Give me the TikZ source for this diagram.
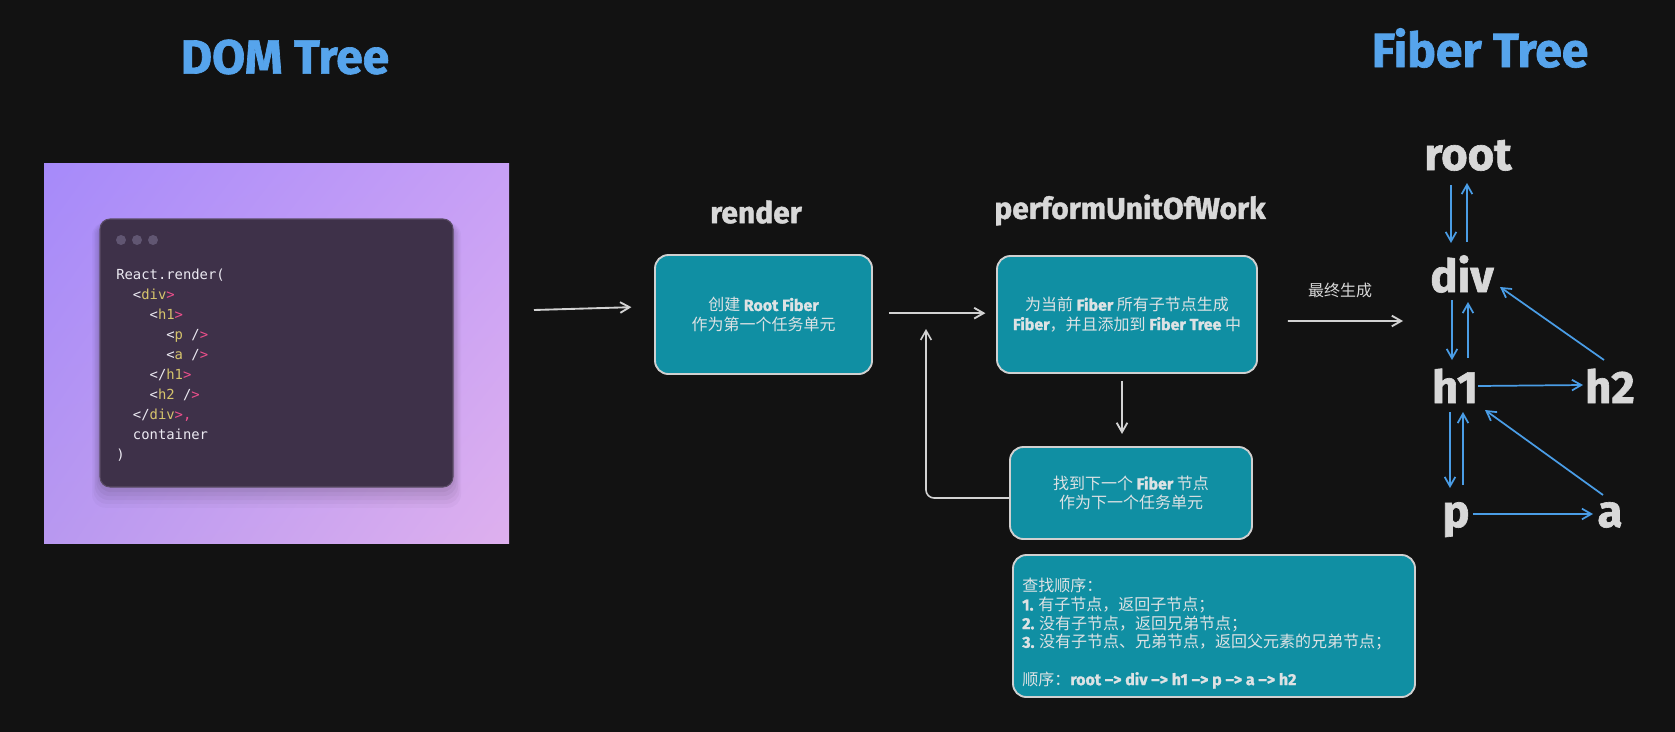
\documentclass[tikz,border=0pt]{standalone}
\usepackage{fontspec}
\setmainfont{Noto Sans CJK SC}
\newfontfamily\fira{Fira Sans}[BoldFeatures={FakeBold=1.4}]
\newfontfamily\codefont{DejaVu Sans Mono}
\usetikzlibrary{arrows.meta,shadings}
\definecolor{bg}{HTML}{121212}
\definecolor{titleblue}{HTML}{56A4EC}
\definecolor{lightgray}{HTML}{D8D8D8}
\definecolor{boxteal}{HTML}{108FA3}
\definecolor{boxline}{HTML}{D0D0D0}
\definecolor{boxtext}{HTML}{DDE2E4}
\definecolor{flowgray}{HTML}{D2D2D2}
\definecolor{treeblue}{HTML}{4A9DE6}
\definecolor{codebg}{HTML}{3E3149}
\definecolor{codeborder}{HTML}{5A4C66}
\definecolor{codewhite}{HTML}{ECEAF2}
\definecolor{codeyellow}{HTML}{D6C46C}
\definecolor{codepink}{HTML}{EE4F8C}
\definecolor{dotgray}{HTML}{615672}
\newcommand\fb[1]{{\fira\bfseries #1}}
\newcommand\cY[1]{\textcolor{codeyellow}{#1}}
\newcommand\cP[1]{\textcolor{codepink}{#1}}
\begin{document}
\begin{tikzpicture}[x=0.75pt,y=-0.75pt,
  every node/.style={inner sep=0pt},
  ttl/.style={text=titleblue, font=\fira\bfseries\fontsize{36}{40}\selectfont},
  hdr/.style={text=lightgray, font=\fira\bfseries\fontsize{22.5}{26}\selectfont},
  fnode/.style={text=lightgray, font=\fira\bfseries\fontsize{34}{36}\selectfont, anchor=base},
  fbox/.style={draw=boxline, line width=1.4pt, fill=boxteal, rounded corners=10pt, text=boxtext, align=center, font=\fontsize{12}{14.5}\selectfont},
  flowarrow/.style={draw=flowgray, line width=1.4pt, -{Straight Barb[length=7pt,width=8pt]}},
  treearrow/.style={draw=treeblue, line width=1.3pt, -{Straight Barb[length=7pt,width=8pt]}},
]
\fill[bg] (0,0) rectangle (1675,732);
\useasboundingbox (0,0) rectangle (1675,732);

% titles
\node[ttl] (domtitle) at (285,57) {DOM Tree};
\node[ttl] (fibertitle) at (1480,48) {Fiber Tree};

% purple panel with code window
\shade[upper left={rgb,255:red,166;green,138;blue,250}, upper right={rgb,255:red,200;green,160;blue,246},
       lower left={rgb,255:red,184;green,152;blue,240}, lower right={rgb,255:red,222;green,176;blue,238}]
  (44,163) rectangle (509,543);
\foreach \s/\o in {16/0.025,13/0.03,10/0.035,7/0.04,4/0.045}{
  \fill[black, opacity=\o, rounded corners=10pt] (100-\s*0.5,222) rectangle (453+\s*0.5,487+\s*1.3);
}
\draw[fill=codebg, draw=codeborder, line width=0.8pt, rounded corners=7.5pt] (100,219) rectangle (453,487);
\fill[dotgray] (121,240) circle (5) (137,240) circle (5) (153,240) circle (5);
\node[anchor=north west, align=left, text=codewhite, font=\codefont\fontsize{10.4}{15}\selectfont] (code) at (116,269) {React.render(\\
\phantom{aa}<\cY{div}\cP{>}\\
\phantom{aaaa}<\cY{h1}\cP{>}\\
\phantom{aaaaaa}<\cY{p} /\cP{>}\\
\phantom{aaaaaa}<\cY{a} /\cP{>}\\
\phantom{aaaa}</\cY{h1}\cP{>}\\
\phantom{aaaa}<\cY{h2} /\cP{>}\\
\phantom{aa}</\cY{div}\cP{>,}\\
\phantom{aa}container\\
)};

% headers
\node[hdr] (renderhdr) at (756,212) {render};
\node[hdr] (pouwhdr) at (1130,210) {performUnitOfWork};

% boxes
\node[fbox, minimum width=162.75pt, minimum height=89.25pt] (b1) at (763.5,314.5)
  {创建 \fb{Root Fiber}\\作为第一个任务单元};
\node[fbox, minimum width=195pt, minimum height=87.75pt] (b2) at (1127,314.5)
  {为当前 \fb{Fiber} 所有子节点生成\\\fb{Fiber}，并且添加到 \fb{Fiber Tree} 中};
\node[fbox, minimum width=181.5pt, minimum height=69pt] (b3) at (1131,493)
  {找到下一个 \fb{Fiber} 节点\\作为下一个任务单元};
\node[fbox, minimum width=301.5pt, minimum height=106.5pt] (b4) at (1214,626) {};
\node[anchor=north west, align=left, text=boxtext, font=\fontsize{12}{14}\selectfont] (b4text) at (1022,578)
  {查找顺序：\\
   \fb{1.} 有子节点，返回子节点；\\
   \fb{2.} 没有子节点，返回兄弟节点；\\
   \fb{3.} 没有子节点、兄弟节点，返回父元素的兄弟节点；\\[14pt]
   顺序：\fb{root –> div –> h1 –> p –> a –> h2}};

% flow arrows
\coordinate (startpt) at (534,310);
\coordinate (genend) at (1403,321);
\coordinate (loopend) at (926,329);
\draw[flowarrow] (startpt) -- ([xshift=-17pt,yshift=5.5pt]b1.west);
\draw[flowarrow] ([xshift=12pt,yshift=1pt]b1.east) -- ([xshift=-8pt,yshift=1pt]b2.west);
\draw[flowarrow] ([xshift=22.5pt,yshift=-4.9pt]b2.east) -- (genend);
\node[text=lightgray, font=\fontsize{12}{14}\selectfont] (genlabel) at (1340,290) {最终生成};
\draw[flowarrow] ([xshift=-3.75pt,yshift=-5.25pt]b2.south) -- ++(0,53);
\draw[flowarrow, line width=1.2pt, rounded corners=6pt] ([yshift=-3.75pt]b3.west) -| (loopend);

% fiber tree
\node[fnode] (root) at (1468,170) {root};
\node[fnode] (div) at (1462,292) {div};
\node[fnode] (h1) at (1455,403) {h1};
\node[fnode] (h2) at (1610,403) {h2};
\node[fnode] (p) at (1456,527) {p};
\node[fnode] (a) at (1610,527) {a};

\draw[treearrow] ([shift={(-17,15)}]root.base) -- ([shift={(-11,-49)}]div.base);
\draw[treearrow] ([shift={(5,-50)}]div.base) -- ([shift={(-1,13)}]root.base);
\draw[treearrow] ([shift={(-10,8)}]div.base) -- ([shift={(-3,-43)}]h1.base);
\draw[treearrow] ([shift={(13,-45)}]h1.base) -- ([shift={(6,10)}]div.base);
\draw[treearrow] ([shift={(-5,9)}]h1.base) -- ([shift={(-6,-39)}]p.base);
\draw[treearrow] ([shift={(7,-42)}]p.base) -- ([shift={(8,9)}]h1.base);
\draw[treearrow] ([shift={(23,-17)}]h1.base) -- ([shift={(-27,-18)}]h2.base);
\draw[treearrow] ([shift={(-6,-43)}]h2.base) -- ([shift={(38,-5)}]div.base);
\draw[treearrow] ([shift={(-7,-32)}]a.base) -- ([shift={(30,7)}]h1.base);
\draw[treearrow] ([shift={(17,-13)}]p.base) -- ([shift={(-17,-13)}]a.base);
\end{tikzpicture}
\end{document}
